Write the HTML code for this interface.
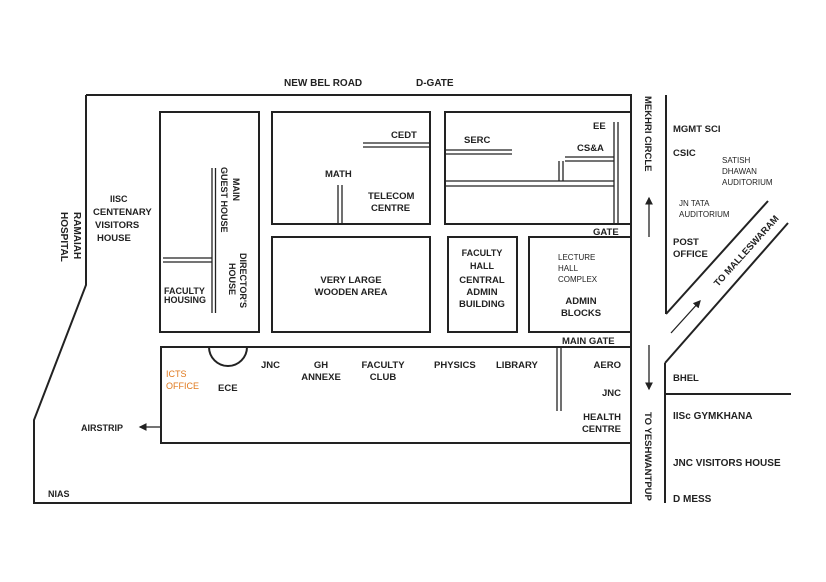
<!DOCTYPE html>
<html><head><meta charset="utf-8"><style>
html,body{margin:0;padding:0;background:#fff;}
svg{display:block}
text{font-family:"Liberation Sans",Arial,sans-serif;font-weight:bold;fill:#222;font-size:10px}
.s{font-size:8px}
</style></head><body>
<svg width="826" height="582" viewBox="0 0 826 582" xmlns="http://www.w3.org/2000/svg">
<defs><marker id="a" markerWidth="6" markerHeight="6" refX="5" refY="3" orient="auto"><path d="M0,0 L6,3 L0,6z" fill="#222"/></marker></defs>
<g fill="none" stroke="#222" stroke-width="2">
<polyline points="86,95 631,95 631,503 34,503 34,420 86,285 86,95"/>
<rect x="160" y="112" width="99" height="220"/>
<rect x="272" y="112" width="158" height="112"/>
<rect x="272" y="237" width="158" height="95"/>
<rect x="445" y="112" width="186" height="112"/>
<rect x="448" y="237" width="69" height="95"/>
<rect x="529" y="237" width="102" height="95"/>
<rect x="161" y="347" width="470" height="96"/>
<path d="M209,347 A19,19 0 0 0 247,347"/>
<line x1="666" y1="95" x2="666" y2="314"/>
<line x1="666" y1="314" x2="768" y2="201"/>
<line x1="665" y1="363" x2="788" y2="223"/>
<line x1="665" y1="363" x2="665" y2="503"/>
<line x1="665" y1="394" x2="791" y2="394"/>
</g>
<g stroke="#222" stroke-width="1.3" fill="none">
<line x1="212" y1="168" x2="212" y2="313"/><line x1="215.5" y1="168" x2="215.5" y2="313"/>
<line x1="163" y1="258" x2="212" y2="258"/><line x1="163" y1="262" x2="212" y2="262"/>
<line x1="363" y1="143" x2="430" y2="143"/><line x1="363" y1="147" x2="430" y2="147"/>
<line x1="338" y1="185" x2="338" y2="224"/><line x1="342" y1="185" x2="342" y2="224"/>
<line x1="445" y1="150" x2="512" y2="150"/><line x1="445" y1="154" x2="512" y2="154"/>
<line x1="445" y1="181" x2="614" y2="181"/><line x1="445" y1="186" x2="614" y2="186"/>
<line x1="614" y1="122" x2="614" y2="224"/><line x1="618" y1="122" x2="618" y2="224"/>
<line x1="565" y1="157" x2="614" y2="157"/><line x1="565" y1="161" x2="614" y2="161"/>
<line x1="559" y1="161" x2="559" y2="181"/><line x1="563" y1="161" x2="563" y2="181"/>
<line x1="557" y1="347" x2="557" y2="411"/><line x1="561" y1="347" x2="561" y2="411"/>
<line x1="161" y1="427" x2="140" y2="427" marker-end="url(#a)"/>
<line x1="649" y1="237" x2="649" y2="198" marker-end="url(#a)"/>
<line x1="649" y1="345" x2="649" y2="389" marker-end="url(#a)"/>
<line x1="671" y1="333" x2="700" y2="301" marker-end="url(#a)"/>
</g>
<text x="284" y="86">NEW BEL ROAD</text>
<text x="416" y="86">D-GATE</text>
<text x="74" y="212" transform="rotate(90 74 212)" text-anchor="start">RAMAIAH</text>
<text x="61" y="212" transform="rotate(90 61 212)">HOSPITAL</text>
<text x="110" y="202" class="s" style="font-size:9px">IISC</text>
<text x="93" y="215" style="font-size:9.5px">CENTENARY</text>
<text x="95" y="228" style="font-size:9.5px">VISITORS</text>
<text x="97" y="241" style="font-size:9.5px">HOUSE</text>
<text x="233" y="178" transform="rotate(90 233 178)" style="font-size:9px">MAIN</text>
<text x="221" y="167" transform="rotate(90 221 167)" style="font-size:9px">GUEST HOUSE</text>
<text x="240" y="253" transform="rotate(90 240 253)" style="font-size:9px">DIRECTOR'S</text>
<text x="229" y="263" transform="rotate(90 229 263)" style="font-size:9px">HOUSE</text>
<text x="164" y="294" style="font-size:9px">FACULTY</text>
<text x="164" y="303" style="font-size:9px">HOUSING</text>
<text x="391" y="138" style="font-size:9.5px">CEDT</text>
<text x="325" y="177" style="font-size:9.5px">MATH</text>
<text x="368" y="199" style="font-size:9.5px">TELECOM</text>
<text x="371" y="211" style="font-size:9.5px">CENTRE</text>
<text x="351" y="283" text-anchor="middle" style="font-size:9.5px">VERY LARGE</text>
<text x="351" y="295" text-anchor="middle" style="font-size:9.5px">WOODEN AREA</text>
<text x="464" y="143" style="font-size:9.5px">SERC</text>
<text x="593" y="129" style="font-size:9.5px">EE</text>
<text x="577" y="151" style="font-size:9.5px">CS&amp;A</text>
<text x="593" y="235" style="font-size:9.5px">GATE</text>
<text x="482" y="256" text-anchor="middle" style="font-size:9px">FACULTY</text>
<text x="482" y="269" text-anchor="middle" style="font-size:9px">HALL</text>
<text x="482" y="283" text-anchor="middle" style="font-size:9.5px">CENTRAL</text>
<text x="482" y="295" text-anchor="middle" style="font-size:9.5px">ADMIN</text>
<text x="482" y="307" text-anchor="middle" style="font-size:9.5px">BUILDING</text>
<text x="558" y="260" class="s" style="font-weight:normal">LECTURE</text>
<text x="558" y="271" class="s" style="font-weight:normal">HALL</text>
<text x="558" y="282" class="s" style="font-weight:normal">COMPLEX</text>
<text x="581" y="304" text-anchor="middle" style="font-size:9.5px">ADMIN</text>
<text x="581" y="316" text-anchor="middle" style="font-size:9.5px">BLOCKS</text>
<text x="562" y="344" style="font-size:9.5px">MAIN GATE</text>
<text x="645" y="96" transform="rotate(90 645 96)" style="font-size:9.5px">MEKHRI CIRCLE</text>
<text x="673" y="132" style="font-size:9.5px">MGMT SCI</text>
<text x="673" y="156" style="font-size:9.5px">CSIC</text>
<text x="722" y="163" class="s" style="font-weight:normal">SATISH</text>
<text x="722" y="174" class="s" style="font-weight:normal">DHAWAN</text>
<text x="722" y="185" class="s" style="font-weight:normal">AUDITORIUM</text>
<text x="679" y="206" class="s" style="font-weight:normal">JN TATA</text>
<text x="679" y="217" class="s" style="font-weight:normal">AUDITORIUM</text>
<text x="673" y="245" style="font-size:9.5px">POST</text>
<text x="673" y="257" style="font-size:9.5px">OFFICE</text>
<text x="718" y="287" transform="rotate(-48 718 287)" style="font-size:9.5px">TO MALLESWARAM</text>
<text x="166" y="377" style="font-size:9px;font-weight:normal;fill:#e07a1f">ICTS</text>
<text x="166" y="389" style="font-size:9px;font-weight:normal;fill:#e07a1f">OFFICE</text>
<text x="218" y="391" style="font-size:9.5px">ECE</text>
<text x="261" y="368" style="font-size:9.5px">JNC</text>
<text x="321" y="368" text-anchor="middle" style="font-size:9.5px">GH</text>
<text x="321" y="380" text-anchor="middle" style="font-size:9.5px">ANNEXE</text>
<text x="383" y="368" text-anchor="middle" style="font-size:9.5px">FACULTY</text>
<text x="383" y="380" text-anchor="middle" style="font-size:9.5px">CLUB</text>
<text x="434" y="368" style="font-size:9.5px">PHYSICS</text>
<text x="496" y="368" style="font-size:9.5px">LIBRARY</text>
<text x="621" y="368" text-anchor="end" style="font-size:9.5px">AERO</text>
<text x="621" y="396" text-anchor="end" style="font-size:9.5px">JNC</text>
<text x="621" y="420" text-anchor="end" style="font-size:9.5px">HEALTH</text>
<text x="621" y="432" text-anchor="end" style="font-size:9.5px">CENTRE</text>
<text x="81" y="431" style="font-size:9px">AIRSTRIP</text>
<text x="48" y="497" style="font-size:9px">NIAS</text>
<text x="645" y="412" transform="rotate(90 645 412)" style="font-size:9.5px">TO YESHWANTPUP</text>
<text x="673" y="381" style="font-size:9.5px">BHEL</text>
<text x="673" y="419" style="font-size:10px">IISc GYMKHANA</text>
<text x="673" y="466" style="font-size:10px">JNC VISITORS HOUSE</text>
<text x="673" y="502" style="font-size:10px">D MESS</text>
</svg>
</body></html>
